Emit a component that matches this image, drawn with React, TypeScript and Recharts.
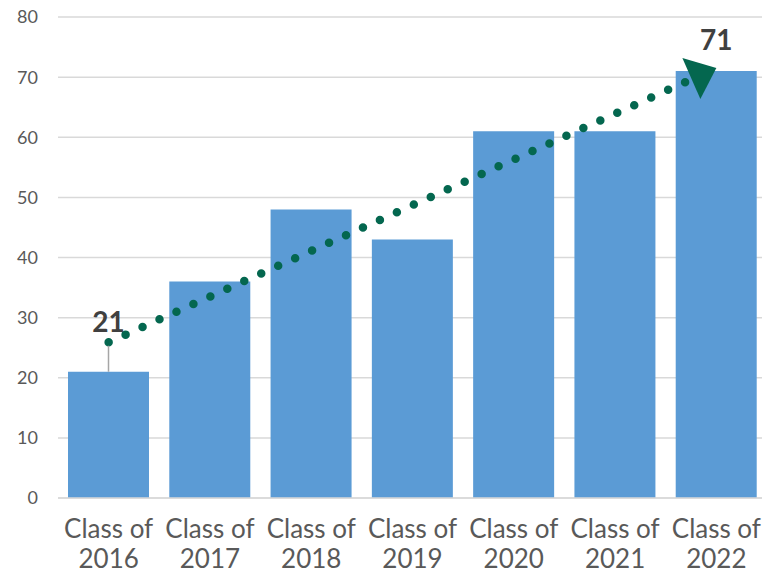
import React from "react";
import {
  Bar,
  CartesianGrid,
  ComposedChart,
  Line,
  XAxis,
  YAxis,
} from "recharts";

const categories = [
  "Class of 2016",
  "Class of 2017",
  "Class of 2018",
  "Class of 2019",
  "Class of 2020",
  "Class of 2021",
  "Class of 2022",
];

const students = [21, 36, 48, 43, 61, 61, 71];

// trendline end points (first and last class)
const trendStart = 25.9;
const trendEnd = 71.5;

const yTicks = [0, 10, 20, 30, 40, 50, 60, 70, 80];

const data = categories.map((label, i) => ({
  label,
  students: students[i],
  trend: i === 0 ? trendStart : i === categories.length - 1 ? trendEnd : null,
}));

const trendColor = "#04674f";
const gridColor = "#d9d9d9";

function ClassTick({ x, y, payload }: any) {
  const text = String(payload.value);
  const cut = text.lastIndexOf(" ");
  return (
    <text x={x} y={y} textAnchor="middle" fill="#595959" fontSize={26}>
      <tspan x={x} dy={40}>
        {text.slice(0, cut)}
      </tspan>
      <tspan x={x} dy={30}>
        {text.slice(cut + 1)}
      </tspan>
    </text>
  );
}

function renderBarLabel(props: any) {
  const { x, y, width, value, index } = props;
  const cx = Number(x) + Number(width) / 2;
  if (index === 0) {
    return (
      <g key="lbl-first">
        <line x1={cx} y1={y} x2={cx} y2={y - 26} stroke="#a6a6a6" strokeWidth={1.5} />
        <text x={cx} y={y - 40} textAnchor="middle" fontSize={28} fontWeight={700} fill="#404040">
          {value}
        </text>
      </g>
    );
  }
  if (index === students.length - 1) {
    return (
      <text key="lbl-last" x={cx} y={y - 21} textAnchor="middle" fontSize={28} fontWeight={700} fill="#404040">
        {value}
      </text>
    );
  }
  return <g key={`lbl-${index}`} />;
}

function renderTrendDot(props: any) {
  const { cx, cy, index } = props;
  if (index !== students.length - 1 || cy == null) return <g key={`td-${index}`} />;
  const pts = `${cx},${cy} ${cx - 34},${cy - 10} ${cx - 16},${cy + 31}`;
  return <polygon key="td-arrow" points={pts} fill={trendColor} />;
}

export default function App() {
  return (
    <div
      style={{
        position: "absolute",
        left: 0,
        top: 0,
        width: 762,
        height: 570,
        overflow: "hidden",
        fontFamily: "Lato",
        background: "#fff",
      }}
    >
      <ComposedChart
        width={767}
        height={570}
        data={data}
        margin={{ top: 17, right: 0, bottom: 0, left: 0 }}
        barCategoryGap={10}
      >
        <CartesianGrid vertical={false} stroke={gridColor} strokeWidth={1.5} />
        <XAxis
          dataKey="label"
          interval={0}
          height={72}
          tickLine={false}
          tickSize={0}
          tickMargin={0}
          axisLine={{ stroke: gridColor, strokeWidth: 1.5 }}
          tick={<ClassTick />}
        />
        <YAxis
          width={58}
          domain={[0, 80]}
          ticks={yTicks}
          tickLine={false}
          axisLine={false}
          tickSize={0}
          tickMargin={20}
          tick={{ fontSize: 18, fill: "#595959" }}
        />
        <Bar dataKey="students" fill="#5b9bd5" isAnimationActive={false} label={renderBarLabel} />
        <Line
          dataKey="trend"
          connectNulls
          stroke={trendColor}
          strokeWidth={8.5}
          strokeDasharray="0 18.6"
          strokeLinecap="round"
          dot={renderTrendDot}
          activeDot={false}
          legendType="none"
          isAnimationActive={false}
        />
      </ComposedChart>
    </div>
  );
}
